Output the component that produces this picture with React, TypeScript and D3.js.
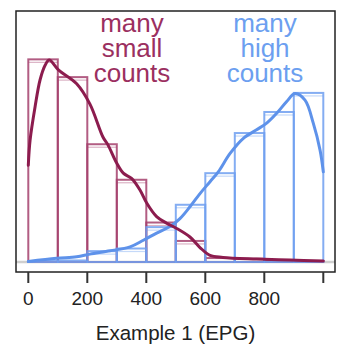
import React from "react";
import * as d3 from "d3";

const binStarts = [0, 100, 200, 300, 400, 500, 600, 700, 800, 900];
const binWidth = 100;
const smallCountsPct = [30.8, 28.1, 17.9, 12.5, 6.0, 3.2, 0.6, 0.5, 0.2, 0.15];
const highCountsPct = [0.15, 0.23, 1.65, 2.05, 5.3, 8.7, 13.5, 19.6, 22.8, 25.7];

const smallCurve: [number, number][] = [
  [0, 14.7], [6, 18.5], [23, 23.6], [40, 27.7], [57, 29.9], [71, 30.7], [102, 29.2],
  [164, 27.1], [209, 24.0], [253, 19.0], [270, 17.8], [300, 15.0], [322, 13.5],
  [350, 12.7], [379, 10.9], [401, 9.0], [435, 6.9], [469, 5.9], [503, 5.1],
  [548, 3.8], [582, 2.2], [616, 1.0], [660, 0.7], [774, 0.46], [887, 0.3], [1000, 0.15],
];
const highCurve: [number, number][] = [
  [0, 0.08], [96, 0.56], [164, 0.8], [209, 1.2], [277, 1.7], [345, 2.3], [390, 3.3],
  [435, 4.4], [480, 5.4], [514, 6.6], [548, 8.4], [582, 10.4], [616, 12.2], [644, 13.7],
  [684, 16.5], [729, 18.8], [774, 20.1], [808, 21.1], [842, 22.6], [876, 24.4],
  [904, 25.6], [938, 24.6], [966, 21.1], [989, 17.0], [1000, 13.7],
];
const xTicks = [0, 200, 400, 600, 800, 1000];
const xTickLabels = ["0", "200", "400", "600", "800", ""];
const smallLabel = ["many", "small", "counts"];
const highLabel = ["many", "high", "counts"];
const xTitle = "Example 1 (EPG)";

const RED_LINE = "#8c1c4e";
const RED_BAR = "#a5416d";
const BLUE_LINE = "#5e92ea";
const BLUE_BAR = "#6f9ff0";

export default function App() {
  const W = 343, H = 347;
  const box = { l: 16, r: 335, t: 11, b: 272 };
  const x = d3.scaleLinear().domain([0, 1000]).range([28.3, 323.3]);
  const y = d3.scaleLinear().domain([0, 38.15]).range([262, 11]);
  const line = d3
    .line<[number, number]>()
    .x((d) => x(d[0]))
    .y((d) => y(d[1]))
    .curve(d3.curveCatmullRom.alpha(0.5));
  const font = "Liberation Sans, Arial, Helvetica, sans-serif";

  const bars = (vals: number[], color: string) =>
    vals.map((v, i) => {
      const x0 = x(binStarts[i]);
      const x1 = x(binStarts[i] + binWidth);
      const yt = y(v);
      return (
        <g key={i}>
          <rect x={x0} y={yt} width={x1 - x0} height={y(0) - yt} fill="none" stroke={color} strokeWidth={2} strokeOpacity={0.85} />
          {y(0) - yt > 6 && (
            <line x1={x0} x2={x1} y1={yt + 3} y2={yt + 3} stroke={color} strokeWidth={1.2} strokeOpacity={0.4} />
          )}
        </g>
      );
    });

  const label = (lines: string[], cx: number, color: string) => (
    <text x={cx} y={31.5} textAnchor="middle" fontSize={26} fill={color}>
      {lines.map((s, i) => (
        <tspan key={i} x={cx} dy={i === 0 ? 0 : 25}>
          {s}
        </tspan>
      ))}
    </text>
  );

  return (
    <svg width={W} height={H} style={{ position: "absolute", left: 0, top: 0 }} fontFamily={font}>
      <rect x={0} y={0} width={W} height={H} fill="#fff" />
      <line x1={box.l} x2={box.r} y1={y(0)} y2={y(0)} stroke="#cfcfcf" strokeWidth={2.5} />
      {bars(smallCountsPct, RED_BAR)}
      {bars(highCountsPct, BLUE_BAR)}
      <path d={line(highCurve) || ""} fill="none" stroke={BLUE_LINE} strokeWidth={3} strokeLinecap="round" />
      <path d={line(smallCurve) || ""} fill="none" stroke={RED_LINE} strokeWidth={3} strokeLinecap="round" />
      <rect x={box.l} y={box.t} width={box.r - box.l} height={box.b - box.t} fill="none" stroke="#222" strokeWidth={1.5} />
      {xTicks.map((t, i) => (
        <g key={t}>
          <line x1={x(t)} x2={x(t)} y1={box.b} y2={box.b + 11} stroke="#333" strokeWidth={2} />
          <text x={x(t)} y={305} textAnchor="middle" fontSize={19} fill="#222">
            {xTickLabels[i]}
          </text>
        </g>
      ))}
      <text x={175.5} y={340} textAnchor="middle" fontSize={20.5} fill="#222">
        {xTitle}
      </text>
      {label(smallLabel, 132, "#9b2f60")}
      {label(highLabel, 265, "#6c9ff0")}
    </svg>
  );
}
